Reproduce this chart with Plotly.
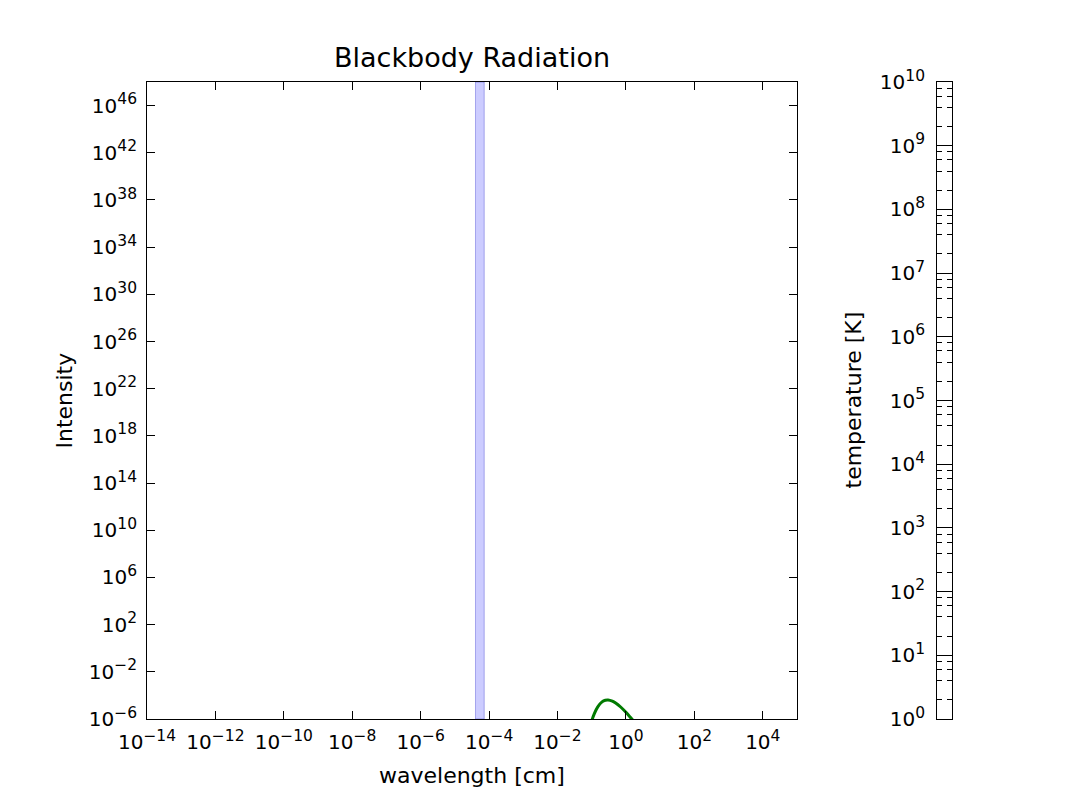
import plotly.graph_objects as go

# ---- data ----
wavelength_cm = [0.09, 0.10, 0.12, 0.15, 0.20, 0.25, 0.30, 0.40, 0.50, 0.70, 1.0, 1.3, 1.6, 2.0]
intensity = [1.5e-7, 6.7e-7, 3.0e-6, 1.07e-5, 2.8e-5, 3.87e-5, 4.1e-5, 3.27e-5, 2.27e-5, 1.04e-5,
             3.7e-6, 1.58e-6, 7.8e-7, 3.5e-7]
visible_band = [4.0e-5, 7.2e-5]
x_exponents = [-14, -12, -10, -8, -6, -4, -2, 0, 2, 4]
y_exponents = [-6, -2, 2, 6, 10, 14, 18, 22, 26, 30, 34, 38, 42, 46]
t_exponents = [0, 1, 2, 3, 4, 5, 6, 7, 8, 9, 10]
t_minor_mult = [2, 4, 6, 8]
x_range_exp = [-14, 5]
y_range_exp = [-6, 48]
t_range_exp = [0, 10]

FONT = "DejaVu Sans"
W, H = 1066, 792
main_x = [147 / W, 797 / W]
main_y = [1 - 719 / H, 1 - 82 / H]
cb_x = [937 / W, 952 / W]

fig = go.Figure()

ylo, yhi = 10.0 ** y_range_exp[0], 10.0 ** y_range_exp[1]
fig.add_trace(go.Scatter(
    x=[visible_band[0], visible_band[0], visible_band[1], visible_band[1], visible_band[0]],
    y=[ylo, yhi, yhi, ylo, ylo],
    fill="toself", fillcolor="rgba(0,0,255,0.2)",
    line=dict(color="rgba(40,40,200,0.35)", width=1),
    mode="lines", hoverinfo="skip", showlegend=False, xaxis="x", yaxis="y"))

fig.add_trace(go.Scatter(
    x=wavelength_cm, y=intensity, mode="lines",
    line=dict(color="#007a00", width=3, shape="spline"),
    showlegend=False, xaxis="x", yaxis="y"))

# invisible traces holding the temperature bar axes
fig.add_trace(go.Scatter(x=[0.5], y=[10.0], mode="markers", marker=dict(opacity=0),
                         hoverinfo="skip", showlegend=False, xaxis="x2", yaxis="y2"))
fig.add_trace(go.Scatter(x=[0.5], y=[10.0], mode="markers", marker=dict(opacity=0),
                         hoverinfo="skip", showlegend=False, xaxis="x2", yaxis="y3"))


def sup(e):
    s = str(e).replace("-", "\u2212")
    return f'10<sup><span style="font-size:15.5px">{s}</span></sup>'


tickfont = dict(family=FONT, size=20, color="black")
minor_t = [m * 10.0 ** e for e in t_exponents[:-1] for m in t_minor_mult]

fig.update_layout(
    width=W, height=H,
    margin=dict(l=0, r=0, t=0, b=0),
    paper_bgcolor="white", plot_bgcolor="white",
    font=dict(family=FONT, color="black"),
    xaxis=dict(
        domain=main_x, type="log", range=x_range_exp, anchor="y",
        tickvals=[10.0 ** e for e in x_exponents], ticktext=[sup(e) for e in x_exponents],
        ticks="inside", ticklen=8, tickcolor="black", mirror="ticks",
        showline=True, linecolor="black", linewidth=1, showgrid=False, zeroline=False,
        tickfont=tickfont, ticklabelstandoff=5, automargin=False),
    yaxis=dict(
        domain=main_y, type="log", range=y_range_exp, anchor="x",
        tickvals=[10.0 ** e for e in y_exponents], ticktext=[sup(e) for e in y_exponents],
        ticks="inside", ticklen=8, tickcolor="black", mirror="ticks",
        showline=True, linecolor="black", linewidth=1, showgrid=False, zeroline=False,
        tickfont=tickfont, ticklabelstandoff=5, automargin=False),
    xaxis2=dict(
        domain=cb_x, range=[0, 1], anchor="y2", showticklabels=False, ticks="",
        showline=True, linecolor="black", linewidth=1, mirror=True,
        showgrid=False, zeroline=False),
    yaxis2=dict(
        domain=main_y, type="log", range=t_range_exp, anchor="x2",
        tickvals=[10.0 ** e for e in t_exponents], ticktext=[sup(e) for e in t_exponents],
        ticks="inside", ticklen=15, tickcolor="black",
        minor=dict(ticks="inside", ticklen=5, tickcolor="black", tickvals=minor_t),
        showline=True, linecolor="black", linewidth=1, showgrid=False, zeroline=False,
        tickfont=tickfont, ticklabelstandoff=7, automargin=False),
    yaxis3=dict(
        overlaying="y2", side="right", anchor="x2", type="log", range=t_range_exp,
        tickvals=[10.0 ** e for e in t_exponents], showticklabels=False,
        ticks="inside", ticklen=15, tickcolor="black",
        minor=dict(ticks="inside", ticklen=5, tickcolor="black", tickvals=minor_t),
        showline=True, linecolor="black", linewidth=1, showgrid=False, zeroline=False,
        automargin=False),
    annotations=[
        dict(text="Blackbody Radiation", x=(main_x[0] + main_x[1]) / 2, y=1 - 57 / H,
             xanchor="center", yanchor="middle",
             xref="paper", yref="paper", showarrow=False, font=dict(family=FONT, size=27)),
        dict(text="wavelength [cm]", x=(main_x[0] + main_x[1]) / 2, y=1 - 775 / H,
             xanchor="center", yanchor="middle",
             xref="paper", yref="paper", showarrow=False, font=dict(family=FONT, size=22)),
        dict(text="Intensity", x=64 / W, y=(main_y[0] + main_y[1]) / 2, textangle=-90,
             xanchor="center", yanchor="middle",
             xref="paper", yref="paper", showarrow=False, font=dict(family=FONT, size=22)),
        dict(text="temperature [K]", x=853 / W, y=(main_y[0] + main_y[1]) / 2, textangle=-90,
             xanchor="center", yanchor="middle",
             xref="paper", yref="paper", showarrow=False, font=dict(family=FONT, size=22)),
    ],
)

fig.write_html("out.html")
